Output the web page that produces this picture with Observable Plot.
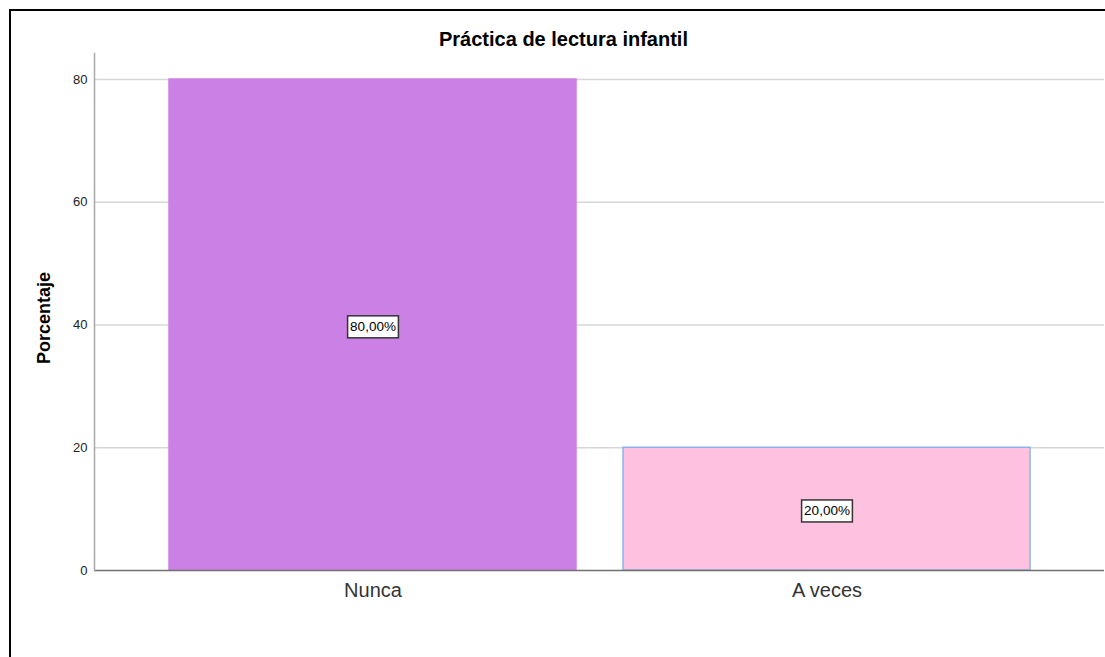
<!DOCTYPE html>
<html>
<head>
<meta charset="utf-8">
<script src="https://cdn.jsdelivr.net/npm/d3@7"></script>
<script src="https://cdn.jsdelivr.net/npm/@observablehq/plot@0.6"></script>
<style>
  html, body { margin: 0; padding: 0; background: #fff; }
  #wrap { position: relative; width: 1105px; height: 657px; overflow: hidden; background: #fff; font-family: "Liberation Sans", Arial, sans-serif; }
  #frame { position: absolute; left: 9px; top: 9px; width: 1300px; height: 900px; border-left: 2px solid #000; border-top: 2px solid #000; }
  #title { position: absolute; left: 11px; width: 1105px; top: 28px; text-align: center; font-weight: bold; font-size: 20px; line-height: 22px; color: #000; }
  #chart { position: absolute; left: 0; top: 0; }
</style>
</head>
<body>
<div id="wrap">
  <div id="frame"></div>
  <div id="chart"></div>
  <div id="title">Práctica de lectura infantil</div>
</div>
<script>
const categories = ["Nunca", "A veces"];
const percentages = [80, 20];
const yTicks = [0, 20, 40, 60, 80];
const yLabel = "Porcentaje";

const data = categories.map((c, i) => ({cat: c, value: percentages[i]}));
const fillColors = ["#cb80e6", "#fec2e0"];
const strokeColors = {"Nunca": "#cb80e6", "A veces": "#8db4e8"};
const fmt = v => v.toFixed(2).replace(".", ",") + "%";

const chart = Plot.plot({
  width: 1105,
  height: 657,
  marginLeft: 94,
  marginRight: 1,
  marginTop: 53,
  marginBottom: 87,
  style: {fontFamily: "'Liberation Sans', Arial, sans-serif", background: "transparent"},
  x: {type: "band", domain: categories, range: [168, 1031], paddingInner: 0.103, paddingOuter: 0, label: null},
  y: {domain: [0, 84.24], label: null},
  color: {domain: categories, range: fillColors},
  marks: [
    Plot.gridY(yTicks.filter(t => t > 0), {stroke: "#d6d6d6", strokeOpacity: 1, strokeWidth: 1.5}),
    Plot.barY(data, {x: "cat", y: "value", fill: "cat", stroke: d => strokeColors[d.cat], strokeWidth: 1.5}),
    Plot.ruleY([0], {stroke: "#707070", strokeWidth: 1.5}),
    Plot.frame({anchor: "left", stroke: "#a8a8a8", strokeWidth: 1.5}),
    Plot.axisY({ticks: yTicks, tickSize: 0, tickPadding: 7, fontSize: 13, fill: "#222", label: null}),
    Plot.axisX({tickSize: 0, tickPadding: 12, fontSize: 20, fill: "#333", label: null}),
    Plot.text(data, {x: "cat", y: d => d.value / 2, dy: 2, text: d => fmt(d.value), fontSize: 13.5, fill: "#000", className: "vallabel"}),
    Plot.text([yLabel], {frameAnchor: "left", textAnchor: "middle", rotate: -90, dx: -50, dy: 6, fontSize: 18, fontWeight: "bold", fill: "#000"})
  ]
});
document.getElementById("chart").appendChild(chart);

// draw boxes behind the value labels, sized from the rendered text
d3.select(chart).selectAll(".vallabel text").each(function () {
  const bb = this.getBBox();
  const padX = 2.5, padY = 3.5;
  const t = this.getAttribute("transform");
  const r = document.createElementNS("http://www.w3.org/2000/svg", "rect");
  r.setAttribute("x", bb.x - padX);
  r.setAttribute("y", bb.y - padY);
  r.setAttribute("width", bb.width + 2 * padX);
  r.setAttribute("height", bb.height + 2 * padY);
  r.setAttribute("fill", "#fff");
  r.setAttribute("stroke", "#333");
  r.setAttribute("stroke-width", "1.5");
  if (t) r.setAttribute("transform", t);
  this.parentNode.insertBefore(r, this);
});
</script>
</body>
</html>
